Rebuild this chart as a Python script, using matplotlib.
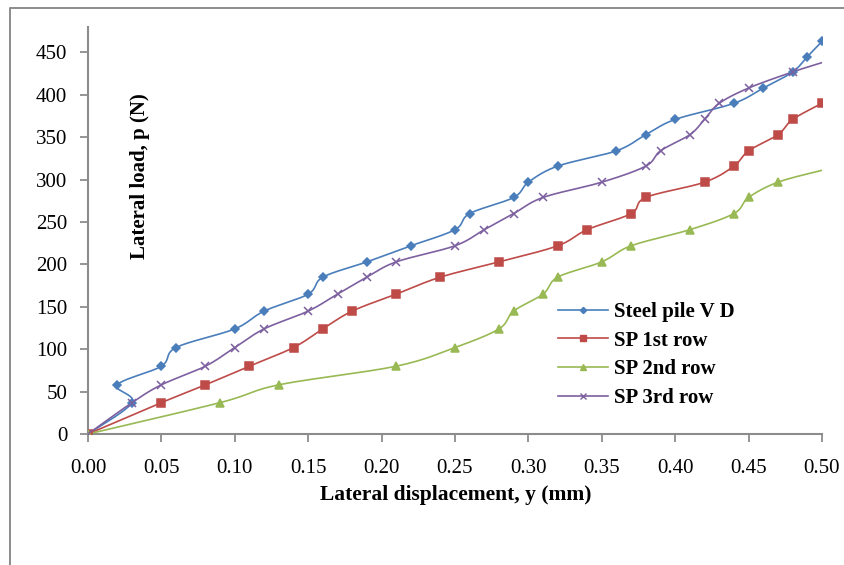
import numpy as np
import matplotlib.pyplot as plt
from matplotlib.lines import Line2D

plt.rcParams['font.family'] = ['Liberation Serif', 'DejaVu Serif']

# load steps (N) vs displacement (mm) for each pile
steel_x = [0, 0.03, 0.02, 0.05, 0.06, 0.10, 0.12, 0.15, 0.16, 0.19, 0.22, 0.25,
           0.26, 0.29, 0.30, 0.32, 0.36, 0.38, 0.40, 0.44, 0.46, 0.48, 0.49, 0.50]
steel_y = [0, 37, 58, 80, 102, 124, 145, 165, 185, 203, 222, 241,
           260, 279, 297, 316, 334, 353, 371, 390, 408, 427, 445, 463]

sp1_x = [0, 0.05, 0.08, 0.11, 0.14, 0.16, 0.18, 0.21, 0.24, 0.28,
         0.32, 0.34, 0.37, 0.38, 0.42, 0.44, 0.45, 0.47, 0.48, 0.50]
sp1_y = [0, 37, 58, 80, 102, 124, 145, 165, 185, 203,
         222, 241, 260, 279, 297, 316, 334, 353, 371, 390]

sp2_x = [0, 0.09, 0.13, 0.21, 0.25, 0.28, 0.29, 0.31,
         0.32, 0.35, 0.37, 0.41, 0.44, 0.45, 0.47, 0.50]
sp2_y = [0, 37, 58, 80, 102, 124, 145, 165,
         185, 203, 222, 241, 260, 279, 297, 311]

sp3_x = [0, 0.03, 0.05, 0.08, 0.10, 0.12, 0.15, 0.17, 0.19, 0.21, 0.25, 0.27,
         0.29, 0.31, 0.35, 0.38, 0.39, 0.41, 0.42, 0.43, 0.45, 0.48, 0.50]
sp3_y = [0, 37, 58, 80, 102, 124, 145, 165, 185, 203, 222, 241,
         260, 279, 297, 316, 334, 353, 371, 390, 408, 427, 438]

labels = ['Steel pile V D', 'SP 1st row', 'SP 2nd row', 'SP 3rd row']
colors = ['#4A7EBB', '#BE4B48', '#98B954', '#7D60A0']


def smooth(x, y, n=24):
    # catmull-rom through the points, drawn as cubic bezier pieces
    p = np.column_stack([x, y]).astype(float)
    p = np.vstack([p[0], p, p[-1]])
    out = [p[1]]
    t = np.linspace(0, 1, n)[1:, None]
    for i in range(1, len(p) - 2):
        p0, p1, p2, p3 = p[i - 1], p[i], p[i + 1], p[i + 2]
        c1 = p1 + (p2 - p0) / 6
        c2 = p2 - (p3 - p1) / 6
        seg = (1 - t)**3 * p1 + 3 * (1 - t)**2 * t * c1 + 3 * (1 - t) * t**2 * c2 + t**3 * p2
        out.extend(seg)
    out = np.array(out)
    return out[:, 0], out[:, 1]


fig = plt.figure(figsize=(8.45, 5.65), dpi=100)
ax = fig.add_axes([88 / 845, 1 - 434 / 565, (822 - 88) / 845, (434 - 27) / 565])

series = [(steel_x, steel_y, 'D', 4.5, None),
          (sp1_x, sp1_y, 's', 5.5, None),
          (sp2_x, sp2_y, '^', 6, slice(0, -1)),
          (sp3_x, sp3_y, 'x', 5.5, slice(0, -1))]

handles = []
for (x, y, m, ms, every), c, lab in zip(series, colors, labels):
    xs, ys = smooth(x, y)
    ax.plot(xs, ys, color=c, lw=1.2, zorder=3)
    xm = np.array(x)
    ym = np.array(y)
    if every is not None:
        xm, ym = xm[every], ym[every]
    ax.plot(xm, ym, ls='none', marker=m, ms=ms, color=c, mew=1.1, zorder=4)
    handles.append(Line2D([], [], color=c, lw=1.2, marker=m, ms=ms * 0.7, mew=1))

ax.set_xlim(0, 0.5)
ax.set_ylim(0, 480)
ax.set_xticks(np.arange(0, 0.501, 0.05))
ax.set_xticklabels(['%.2f' % v for v in np.arange(0, 0.501, 0.05)])
ax.set_yticks(np.arange(0, 451, 50))

for s in ['top', 'right']:
    ax.spines[s].set_visible(False)
for s in ['left', 'bottom']:
    ax.spines[s].set_color('#8c8c8c')
    ax.spines[s].set_linewidth(1.5)
ax.spines['bottom'].set_zorder(2)

ax.tick_params(direction='out', length=6, width=1.3, color='#8c8c8c', labelsize=15)
ax.tick_params(axis='x', pad=12)
ax.tick_params(axis='y', pad=9)

fig.text(456 / 845, 1 - 495 / 565, 'Lateral displacement, y (mm)',
         ha='center', va='center', fontsize=15.5, fontweight='bold')
fig.text(140 / 845, 1 - 176 / 565, 'Lateral load, p (N)', rotation=90,
         ha='center', va='center', fontsize=15, fontweight='bold')

ax.legend(handles, labels, loc='upper left', bbox_to_anchor=(558 / 845, 1 - 302 / 565),
          bbox_transform=fig.transFigure, frameon=False,
          prop={'weight': 'bold', 'size': 15}, handlelength=2.4,
          handletextpad=0.3, labelspacing=0.42, borderpad=0, borderaxespad=0)

# chart area border
fig.add_artist(Line2D([10 / 845, 10 / 845, 1.0], [0, 1 - 8 / 565, 1 - 8 / 565],
                      transform=fig.transFigure, color='#8c8c8c', lw=1.4))

fig.savefig('out.png', dpi=100)
